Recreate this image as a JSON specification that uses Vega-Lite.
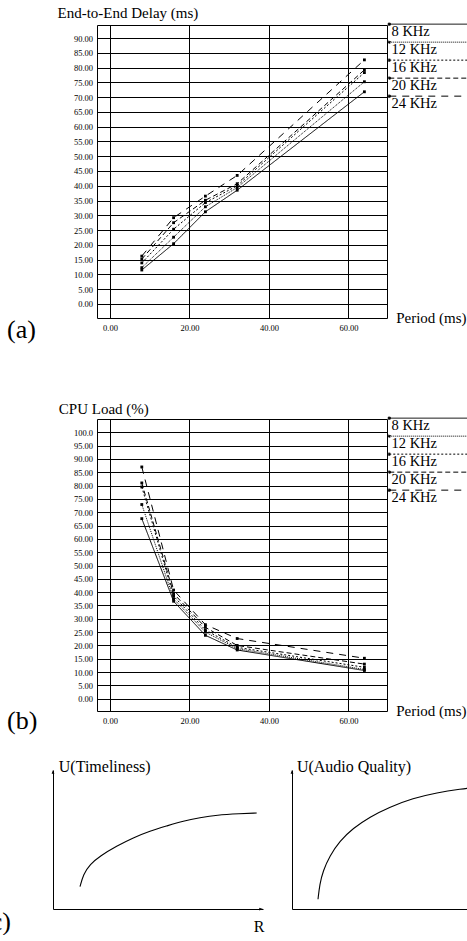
{
  "$schema": "https://vega.github.io/schema/vega-lite/v6.json",
  "padding": {"left": -18, "top": 5, "right": -3, "bottom": 0},
  "config": {
    "font": "Liberation Serif",
    "view": {"stroke": "black", "strokeWidth": 1},
    "axis": {"labelFont": "Liberation Serif", "titleFont": "Liberation Serif", "labelColor": "black", "titleColor": "black", "domainColor": "black", "titleFontWeight": "normal"},
    "title": {"font": "Liberation Serif", "fontWeight": "normal", "color": "black"},
    "legend": {
      "title": null,
      "orient": "none",
      "padding": 0,
      "symbolType": "M-0.5,-4.25H0.5V-3.25H-0.5ZM0,-3.75H40",
      "symbolSize": 16,
      "symbolStrokeWidth": 1,
      "symbolStrokeColor": "black",
      "symbolFillColor": "black",
      "labelFont": "Liberation Serif",
      "labelFontSize": 14.5,
      "labelColor": "black",
      "labelBaseline": "middle",
      "labelOffset": -5,
      "rowPadding": 0
    }
  },
  "datasets": {
    "delay": [
      {"period": 8, "rate": "8 KHz", "value": 11.5},
      {"period": 16, "rate": "8 KHz", "value": 20.4},
      {"period": 24, "rate": "8 KHz", "value": 31.2},
      {"period": 32, "rate": "8 KHz", "value": 38.5},
      {"period": 64, "rate": "8 KHz", "value": 71.8},
      {"period": 8, "rate": "12 KHz", "value": 12.3},
      {"period": 16, "rate": "12 KHz", "value": 22.6},
      {"period": 24, "rate": "12 KHz", "value": 32.9},
      {"period": 32, "rate": "12 KHz", "value": 39.4},
      {"period": 64, "rate": "12 KHz", "value": 75.2},
      {"period": 8, "rate": "16 KHz", "value": 13.9},
      {"period": 16, "rate": "16 KHz", "value": 25.3},
      {"period": 24, "rate": "16 KHz", "value": 34.3},
      {"period": 32, "rate": "16 KHz", "value": 40.0},
      {"period": 64, "rate": "16 KHz", "value": 78.3},
      {"period": 8, "rate": "20 KHz", "value": 15.2},
      {"period": 16, "rate": "20 KHz", "value": 27.5},
      {"period": 24, "rate": "20 KHz", "value": 35.1},
      {"period": 32, "rate": "20 KHz", "value": 40.7},
      {"period": 64, "rate": "20 KHz", "value": 79.2},
      {"period": 8, "rate": "24 KHz", "value": 16.2},
      {"period": 16, "rate": "24 KHz", "value": 29.2},
      {"period": 24, "rate": "24 KHz", "value": 36.5},
      {"period": 32, "rate": "24 KHz", "value": 43.5},
      {"period": 64, "rate": "24 KHz", "value": 82.6}
    ],
    "cpu": [
      {"period": 8, "rate": "8 KHz", "value": 67.6},
      {"period": 16, "rate": "8 KHz", "value": 36.6},
      {"period": 24, "rate": "8 KHz", "value": 23.8},
      {"period": 32, "rate": "8 KHz", "value": 18.3},
      {"period": 64, "rate": "8 KHz", "value": 10.6},
      {"period": 8, "rate": "12 KHz", "value": 72.9},
      {"period": 16, "rate": "12 KHz", "value": 37.5},
      {"period": 24, "rate": "12 KHz", "value": 25.0},
      {"period": 32, "rate": "12 KHz", "value": 18.8},
      {"period": 64, "rate": "12 KHz", "value": 11.0},
      {"period": 8, "rate": "16 KHz", "value": 79.5},
      {"period": 16, "rate": "16 KHz", "value": 38.5},
      {"period": 24, "rate": "16 KHz", "value": 25.8},
      {"period": 32, "rate": "16 KHz", "value": 19.3},
      {"period": 64, "rate": "16 KHz", "value": 11.8},
      {"period": 8, "rate": "20 KHz", "value": 81.0},
      {"period": 16, "rate": "20 KHz", "value": 39.5},
      {"period": 24, "rate": "20 KHz", "value": 26.8},
      {"period": 32, "rate": "20 KHz", "value": 20.0},
      {"period": 64, "rate": "20 KHz", "value": 13.0},
      {"period": 8, "rate": "24 KHz", "value": 87.0},
      {"period": 16, "rate": "24 KHz", "value": 40.8},
      {"period": 24, "rate": "24 KHz", "value": 27.8},
      {"period": 32, "rate": "24 KHz", "value": 22.6},
      {"period": 64, "rate": "24 KHz", "value": 15.2}
    ],
    "timeliness": [
      {"r": 12.86, "u": 16.04}, {"r": 14.43, "u": 24.96}, {"r": 17.62, "u": 32.16},
      {"r": 22.38, "u": 38.13}, {"r": 30.33, "u": 45.32}, {"r": 38.24, "u": 51.29},
      {"r": 46.19, "u": 56.12}, {"r": 54.14, "u": 59.71}, {"r": 62.05, "u": 63.31},
      {"r": 70.0, "u": 65.68}, {"r": 77.95, "u": 67.63}, {"r": 89.05, "u": 68.56},
      {"r": 97.0, "u": 69.06}
    ],
    "audio": [
      {"r": 14.61, "u": 6.98}, {"r": 15.56, "u": 17.77}, {"r": 17.42, "u": 27.34},
      {"r": 21.18, "u": 38.13}, {"r": 26.8, "u": 48.92}, {"r": 34.27, "u": 58.06},
      {"r": 43.65, "u": 66.19}, {"r": 54.89, "u": 73.38}, {"r": 67.98, "u": 79.64},
      {"r": 81.12, "u": 83.67}, {"r": 96.07, "u": 86.55}, {"r": 99.8, "u": 87.0}
    ]
  },
  "bounds": "flush",
  "spacing": 101,
  "resolve": {"scale": {"strokeDash": "independent"}, "legend": {"strokeDash": "independent"}},
  "vconcat": [
    {
      "width": 290,
      "height": 293,
      "data": {"name": "delay"},
      "title": {"text": "(a)", "orient": "bottom", "anchor": "start", "frame": "group", "dx": -90, "dy": 2, "fontSize": 26, "baseline": "alphabetic", "font": "Liberation Serif"},
      "mark": {"type": "line", "color": "black", "strokeWidth": 1, "point": {"shape": "square", "size": 8, "filled": true, "color": "black", "opacity": 1}},
      "encoding": {
        "x": {"field": "period", "type": "quantitative",
          "scale": {"domain": [-3.27, 69.69], "nice": false, "zero": false},
          "axis": {"values": [0, 20, 40, 60], "format": ".2f", "labelFont": "Liberation Serif", "labelFontSize": 8.5, "ticks": false, "labelPadding": 5, "grid": true, "gridColor": "black", "gridWidth": 1, "gridOpacity": 1, "domain": false,
            "title": "Period (ms)", "titleFont": "Liberation Serif", "titleFontWeight": "normal", "titleFontSize": 15, "titleAlign": "left", "titleBaseline": "alphabetic", "titleX": 298.7, "titleY": 4}},
        "y": {"field": "value", "type": "quantitative",
          "scale": {"domain": [-4.74, 94.4], "nice": false, "zero": false},
          "axis": {"values": [0, 5, 10, 15, 20, 25, 30, 35, 40, 45, 50, 55, 60, 65, 70, 75, 80, 85, 90], "format": ".2f", "labelFont": "Liberation Serif", "labelFontSize": 8.5, "ticks": false, "labelPadding": 4.5, "grid": true, "gridColor": "black", "gridWidth": 1, "gridOpacity": 1, "domain": false,
            "title": "End-to-End Delay (ms)", "titleFont": "Liberation Serif", "titleFontWeight": "normal", "titleFontSize": 15, "titleAngle": 0, "titleAlign": "left", "titleBaseline": "alphabetic", "titleX": -40, "titleY": -7.3}},
        "strokeDash": {"field": "rate", "type": "nominal",
          "scale": {"domain": ["8 KHz", "12 KHz", "16 KHz", "20 KHz", "24 KHz"], "range": [[1, 0], [1, 1], [2, 2], [5, 3], [7, 6]]},
          "legend": {"orient": "none", "legendX": 285, "legendY": -0.6,
            "encode": {"symbols": {"update": {"stroke": {"value": "black"}, "strokeWidth": {"value": 1}, "fill": {"value": "black"}, "opacity": {"value": 1}}}}}}
      }
    },
    {
      "bounds": "flush",
      "spacing": 59,
      "resolve": {"scale": {"strokeDash": "independent"}, "legend": {"strokeDash": "independent"}},
      "vconcat": [
        {
          "width": 290,
          "height": 292,
          "data": {"name": "cpu"},
          "title": {"text": "(b)", "orient": "bottom", "anchor": "start", "frame": "group", "dx": -90, "dy": 0, "fontSize": 26, "baseline": "alphabetic", "font": "Liberation Serif"},
          "mark": {"type": "line", "color": "black", "strokeWidth": 1, "point": {"shape": "square", "size": 8, "filled": true, "color": "black", "opacity": 1}},
          "encoding": {
            "x": {"field": "period", "type": "quantitative",
              "scale": {"domain": [-3.27, 69.69], "nice": false, "zero": false},
              "axis": {"values": [0, 20, 40, 60], "format": ".2f", "labelFont": "Liberation Serif", "labelFontSize": 8.5, "ticks": false, "labelPadding": 5, "grid": true, "gridColor": "black", "gridWidth": 1, "gridOpacity": 1, "domain": false,
                "title": "Period (ms)", "titleFont": "Liberation Serif", "titleFontWeight": "normal", "titleFontSize": 15, "titleAlign": "left", "titleBaseline": "alphabetic", "titleX": 298.7, "titleY": 4}},
            "y": {"field": "value", "type": "quantitative",
              "scale": {"domain": [-4.6, 105], "nice": false, "zero": false},
              "axis": {"values": [0, 5, 10, 15, 20, 25, 30, 35, 40, 45, 50, 55, 60, 65, 70, 75, 80, 85, 90, 95, 100], "labelExpr": "datum.value >= 100 ? format(datum.value, '.1f') : format(datum.value, '.2f')", "labelFont": "Liberation Serif", "labelFontSize": 8.5, "ticks": false, "labelPadding": 4.5, "grid": true, "gridColor": "black", "gridWidth": 1, "gridOpacity": 1, "domain": false,
                "title": "CPU Load (%)", "titleFont": "Liberation Serif", "titleFontWeight": "normal", "titleFontSize": 15, "titleAngle": 0, "titleAlign": "left", "titleBaseline": "alphabetic", "titleX": -38.7, "titleY": -6}},
            "strokeDash": {"field": "rate", "type": "nominal",
              "scale": {"domain": ["8 KHz", "12 KHz", "16 KHz", "20 KHz", "24 KHz"], "range": [[1, 0], [1, 1], [2, 2], [5, 3], [7, 6]]},
              "legend": {"orient": "none", "legendX": 285, "legendY": -0.6,
                "encode": {"symbols": {"update": {"stroke": {"value": "black"}, "strokeWidth": {"value": 1}, "fill": {"value": "black"}, "opacity": {"value": 1}}}}}}
          }
        },
        {
          "bounds": "flush",
          "spacing": 29,
          "hconcat": [
            {
              "width": 166,
              "height": 139,
              "view": {"stroke": null},
              "title": {"text": "(c)", "orient": "bottom", "anchor": "start", "frame": "group", "dx": -115, "dy": -9, "fontSize": 26, "baseline": "alphabetic", "font": "Liberation Serif"},
              "layer": [
                {
                  "data": {"name": "timeliness"},
                  "mark": {"type": "line", "color": "black", "strokeWidth": 1.1, "interpolate": "basis"},
                  "encoding": {
                    "x": {"field": "r", "type": "quantitative",
                      "scale": {"domain": [0, 100], "range": [-44, 166], "nice": false, "zero": false},
                      "axis": {"domain": true, "domainWidth": 1, "ticks": false, "labels": false, "grid": false,
                        "title": "R", "titleFont": "Liberation Serif", "titleFontWeight": "normal", "titleFontSize": 16, "titleAlign": "left", "titleBaseline": "alphabetic", "titleX": 156.3, "titleY": 22.7}},
                    "y": {"field": "u", "type": "quantitative",
                      "scale": {"domain": [0, 100], "nice": false, "zero": false},
                      "axis": {"offset": 44, "domain": true, "domainWidth": 1, "ticks": false, "labels": false, "grid": false,
                        "title": "U(Timeliness)", "titleFont": "Liberation Serif", "titleFontWeight": "normal", "titleFontSize": 16, "titleAngle": 0, "titleAlign": "left", "titleBaseline": "alphabetic", "titleX": 5.3, "titleY": 1}}
                  }
                },
                {
                  "data": {"values": [{"r": 0, "u": 100}]},
                  "mark": {"type": "point", "shape": "M0,0L-0.55,1.5L0.55,1.5Z", "filled": true, "color": "black", "size": 25, "opacity": 1},
                  "encoding": {"x": {"field": "r", "type": "quantitative"}, "y": {"field": "u", "type": "quantitative"}}
                },
                {
                  "data": {"values": [{"r": 100, "u": 0}]},
                  "mark": {"type": "point", "shape": "M0,0L-1.5,-0.55L-1.5,0.55Z", "filled": true, "color": "black", "size": 25, "opacity": 1},
                  "encoding": {"x": {"field": "r", "type": "quantitative"}, "y": {"field": "u", "type": "quantitative"}}
                }
              ]
            },
            {
              "width": 178,
              "height": 139,
              "view": {"stroke": null},
              "layer": [
                {
                  "data": {"name": "audio"},
                  "mark": {"type": "line", "color": "black", "strokeWidth": 1.1, "interpolate": "basis"},
                  "encoding": {
                    "x": {"field": "r", "type": "quantitative",
                      "scale": {"domain": [0, 100], "nice": false, "zero": false},
                      "axis": {"domain": true, "domainWidth": 1, "ticks": false, "labels": false, "grid": false, "title": null}},
                    "y": {"field": "u", "type": "quantitative",
                      "scale": {"domain": [0, 100], "nice": false, "zero": false},
                      "axis": {"domain": true, "domainWidth": 1, "ticks": false, "labels": false, "grid": false,
                        "title": "U(Audio Quality)", "titleFont": "Liberation Serif", "titleFontWeight": "normal", "titleFontSize": 16, "titleAngle": 0, "titleAlign": "left", "titleBaseline": "alphabetic", "titleX": 4.4, "titleY": 1}}
                  }
                },
                {
                  "data": {"values": [{"r": 0, "u": 100}]},
                  "mark": {"type": "point", "shape": "M0,0L-0.55,1.5L0.55,1.5Z", "filled": true, "color": "black", "size": 25, "opacity": 1},
                  "encoding": {"x": {"field": "r", "type": "quantitative"}, "y": {"field": "u", "type": "quantitative"}}
                }
              ]
            }
          ]
        }
      ]
    }
  ]
}
